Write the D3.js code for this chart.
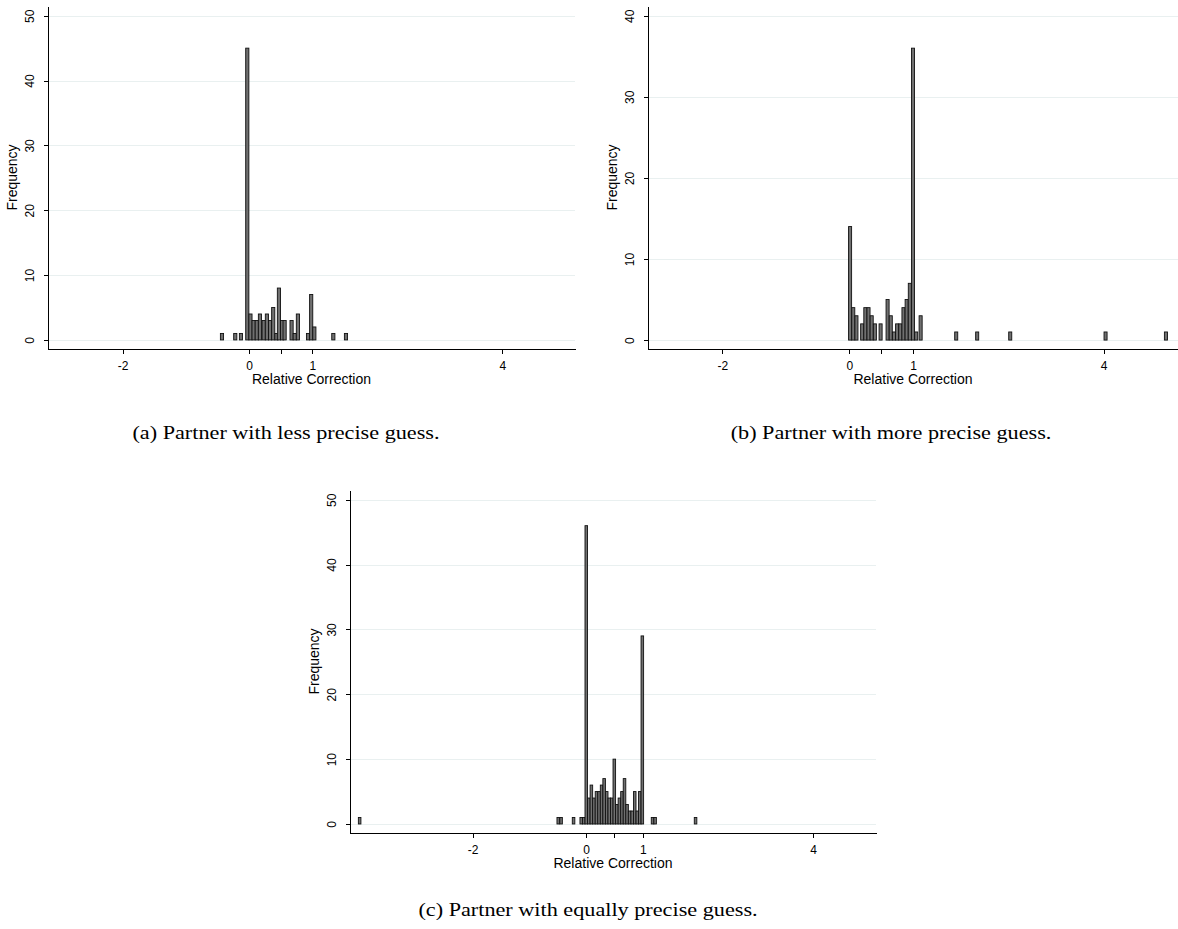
<!DOCTYPE html>
<html>
<head>
<meta charset="utf-8">
<script src="https://cdn.jsdelivr.net/npm/d3@7/dist/d3.min.js"></script>
<style>
body { margin: 0; background: #fff; }
svg { display: block; }
.tick text { font-family: "Liberation Sans", Arial, sans-serif; font-size: 12px; fill: #000; }
.axis path, .axis line { stroke: #000; shape-rendering: crispEdges; }
.axis-title { font-family: "Liberation Sans", Arial, sans-serif; font-size: 14px; fill: #000; }
.caption { font-family: "Liberation Serif", "Times New Roman", serif; font-size: 19px; fill: #000; }
.grid line { stroke: #e9f0f0; shape-rendering: crispEdges; }
.grid path { display: none; }
.bar { fill: #707070; stroke: #111; stroke-width: 0.9; }
</style>
</head>
<body>
<svg id="chart" width="1178" height="929"></svg>
<script>

// -----------------------------------------------------------------------------
// Data
// -----------------------------------------------------------------------------

var xTicks = [-2, 0, 0.5, 1, 4];
var xTickLabels = ["-2", "0", "", "1", "4"];
var yTicks50 = [0, 10, 20, 30, 40, 50];
var yTicks40 = [0, 10, 20, 30, 40];

// (a) partner with less precise guess
var lessBins = [-0.43, -0.22, -0.13, -0.03, 0.02, 0.07, 0.12, 0.17, 0.23, 0.28, 0.33, 0.38,
                0.43, 0.47, 0.52, 0.56, 0.67, 0.72, 0.77, 0.93, 0.98, 1.03, 1.33, 1.53];
var lessFreq = [1, 1, 1, 45, 4, 3, 3, 4, 3, 4, 3, 5, 1, 8, 3, 3, 3, 1, 4, 1, 7, 2, 1, 1];

// (b) partner with more precise guess
var moreBins = [0.01, 0.06, 0.11, 0.20, 0.25, 0.30, 0.35, 0.40, 0.49, 0.60, 0.65, 0.70, 0.75,
                0.80, 0.85, 0.90, 0.95, 1.00, 1.05, 1.12, 1.68, 2.01, 2.53, 4.03, 4.98];
var moreFreq = [14, 4, 3, 2, 4, 4, 3, 2, 2, 5, 3, 1, 2, 2, 4, 5, 7, 36, 1, 3, 1, 1, 1, 1, 1];

// (c) partner with equally precise guess
var equalBins = [-3.99, -0.49, -0.44, -0.22, -0.085, -0.04, 0.004, 0.049, 0.094, 0.139, 0.184,
                 0.229, 0.274, 0.319, 0.364, 0.409, 0.454, 0.498, 0.543, 0.588, 0.633, 0.678,
                 0.723, 0.768, 0.813, 0.858, 0.903, 0.947, 0.992, 1.172, 1.217, 1.93];
var equalFreq = [1, 1, 1, 1, 1, 1, 46, 4, 6, 4, 5, 5, 6, 7, 5, 4, 4, 10, 3, 4, 5, 7, 3, 2, 2,
                 5, 2, 5, 29, 1, 1, 1];

var captions = ["(a) Partner with less precise guess.",
                "(b) Partner with more precise guess.",
                "(c) Partner with equally precise guess."];

// -----------------------------------------------------------------------------
// Panels
// -----------------------------------------------------------------------------

var svg = d3.select("#chart");

function drawPanel(p) {
  var xScale = d3.scaleLinear().domain(p.xDomain).range([p.left, p.right]);
  var yScale = d3.scaleLinear().domain(p.yDomain).range([p.bottom, p.top]);

  var g = svg.append("g");

  // light horizontal gridlines
  g.append("g")
      .attr("class", "grid")
      .attr("transform", "translate(" + p.left + ",0)")
      .call(d3.axisLeft(yScale)
          .tickValues(p.yTicks)
          .tickSize(-(p.right - p.left))
          .tickFormat(""));

  var data = p.bins.map(function(b, i) { return {x: b, y: p.freq[i]}; });

  g.selectAll(".bar")
      .data(data)
    .enter().append("rect")
      .attr("class", "bar")
      .attr("x", function(d) { return xScale(d.x - p.binWidth / 2); })
      .attr("width", function(d) { return xScale(d.x + p.binWidth / 2) - xScale(d.x - p.binWidth / 2); })
      .attr("y", function(d) { return yScale(d.y); })
      .attr("height", function(d) { return yScale(0) - yScale(d.y); });

  var xAxis = g.append("g")
      .attr("class", "axis")
      .attr("transform", "translate(0," + p.bottom + ")")
      .call(d3.axisBottom(xScale)
          .tickValues(xTicks)
          .tickSize(5)
          .tickSizeOuter(0)
          .tickFormat(function(d, i) { return xTickLabels[i]; }));
  xAxis.selectAll("text").attr("y", 12).attr("dy", "0.71em");

  var yAxis = g.append("g")
      .attr("class", "axis")
      .attr("transform", "translate(" + p.left + ",0)")
      .call(d3.axisLeft(yScale)
          .tickValues(p.yTicks)
          .tickSize(4)
          .tickSizeOuter(0));
  yAxis.selectAll("text")
      .attr("transform", "rotate(-90)")
      .attr("x", 0)
      .attr("y", -14)
      .attr("dy", 0)
      .style("text-anchor", "middle");

  g.append("text")
      .attr("class", "axis-title")
      .attr("x", (p.left + p.right) / 2)
      .attr("y", p.bottom + 35)
      .style("text-anchor", "middle")
      .text("Relative Correction");

  g.append("text")
      .attr("class", "axis-title")
      .attr("transform", "translate(" + (p.left - 31) + "," + ((p.top + p.bottom) / 2) + ") rotate(-90)")
      .style("text-anchor", "middle")
      .text("Frequency");

  g.append("text")
      .attr("class", "caption")
      .attr("transform", "translate(" + p.capX + "," + p.capY + ") scale(1.17,1)")
      .style("text-anchor", "middle")
      .text(p.caption);
}

drawPanel({
  bins: lessBins, freq: lessFreq, binWidth: 0.05,
  left: 48, right: 575, top: 6, bottom: 349,
  xDomain: [-3.18, 5.15], yDomain: [-1.4, 51.5], yTicks: yTicks50,
  caption: captions[0], capX: 286, capY: 439
});

drawPanel({
  bins: moreBins, freq: moreFreq, binWidth: 0.048,
  left: 648, right: 1178, top: 6, bottom: 349,
  xDomain: [-3.17, 5.17], yDomain: [-1.1, 41.2], yTicks: yTicks40,
  caption: captions[1], capX: 891, capY: 439
});

drawPanel({
  bins: equalBins, freq: equalFreq, binWidth: 0.045,
  left: 350, right: 876, top: 490, bottom: 833,
  xDomain: [-4.16, 5.11], yDomain: [-1.39, 51.5], yTicks: yTicks50,
  caption: captions[2], capX: 588, capY: 916
});

</script>
</body>
</html>
